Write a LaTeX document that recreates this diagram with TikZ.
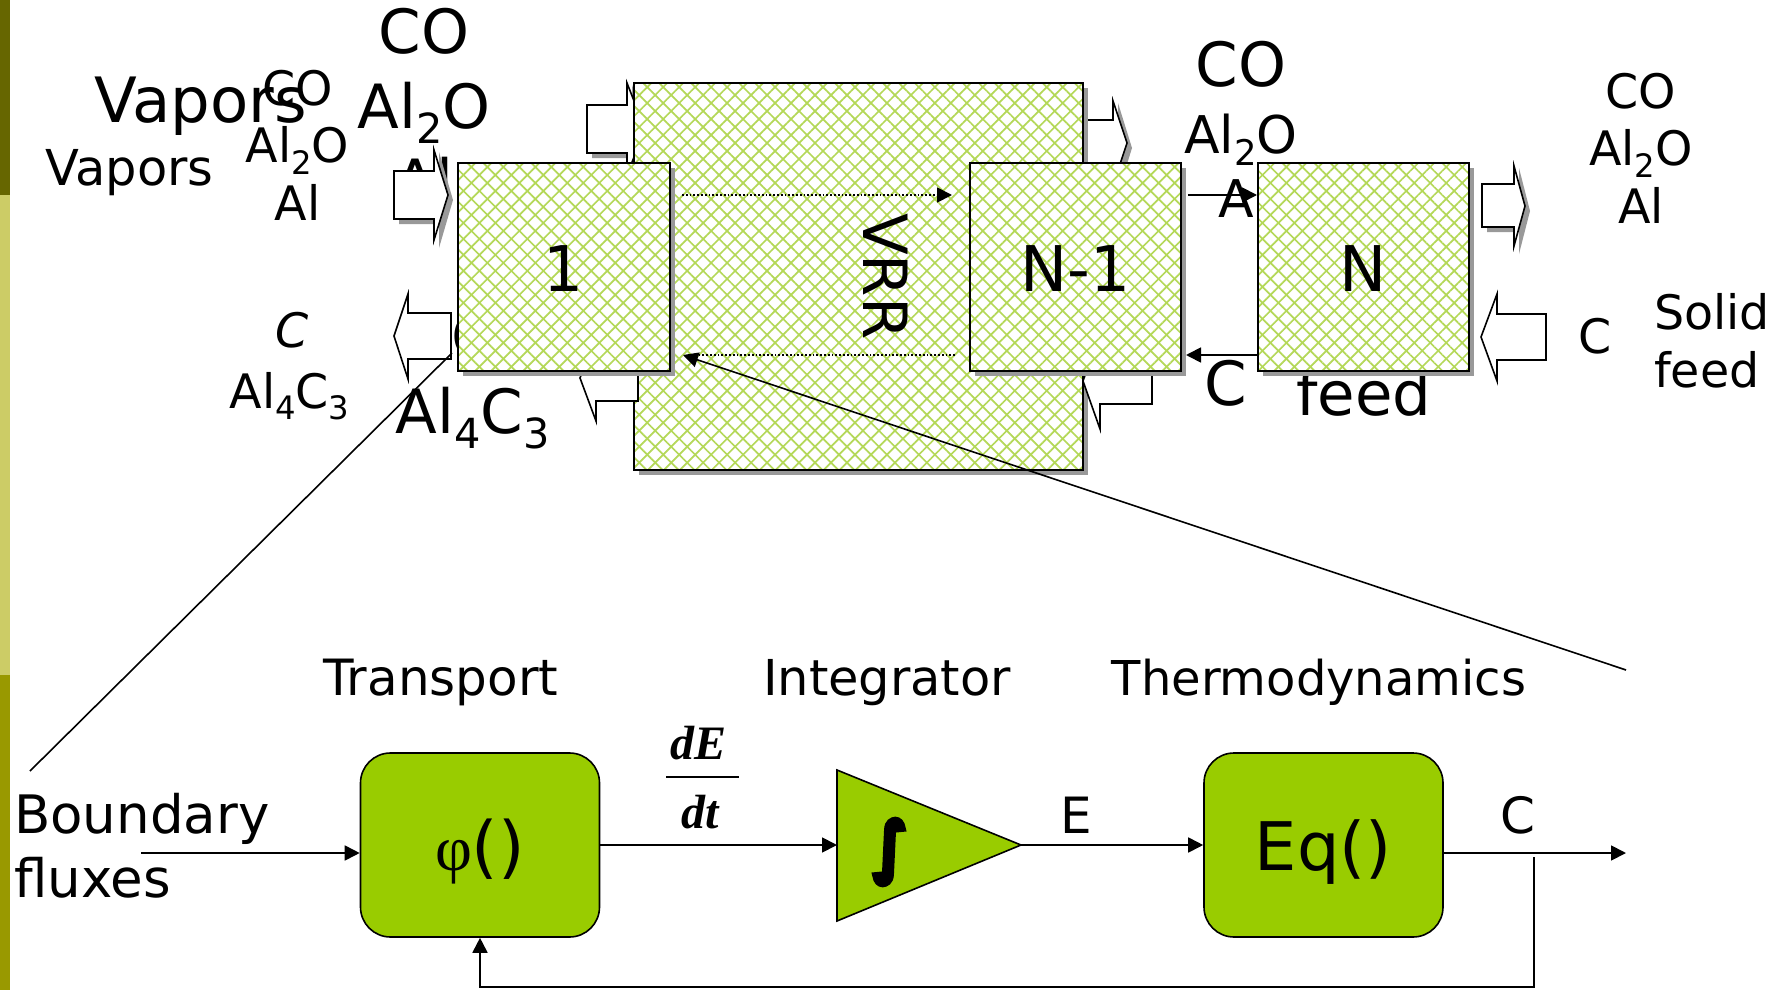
\documentclass[tikz,border=0pt]{standalone}
\usepackage{fontspec}
\setmainfont{DejaVu Sans}
\newfontfamily\timesfont{Liberation Serif}
\newfontfamily\intfont[FakeBold=10]{DejaVu Sans}
\usetikzlibrary{arrows.meta,patterns.meta,shadows,calc}
\definecolor{hatchgreen}{HTML}{B4D858}
\definecolor{blockgreen}{HTML}{99CC00}
\definecolor{shadowgray}{HTML}{999999}
\definecolor{bardark}{HTML}{666600}
\definecolor{barlight}{HTML}{CCCC66}
\definecolor{barmid}{HTML}{999900}
\newcommand{\subnum}[1]{\raisebox{-.25em}{\scalebox{.68}{#1}}}

\begin{document}
\begin{tikzpicture}[x=1pt,y=-1pt,
                    bigtext/.style = {font=\fontsize{61}{75}\selectfont, align=center, inner sep=0pt, anchor=base},
                    midtext/.style = {font=\fontsize{52}{66}\selectfont, align=center, inner sep=0pt, anchor=base},
                    smalltext/.style = {font=\fontsize{47.5}{57.5}\selectfont, align=center, inner sep=0pt, anchor=base},
                    lowtext/.style = {font=\fontsize{49.5}{64}\selectfont, align=left, inner sep=0pt, anchor=base},
                    fractext/.style = {font=\timesfont\bfseries\itshape\fontsize{48}{48}\selectfont, inner sep=0pt, anchor=base},
                    hatchbox/.style = {shape=rectangle, draw, line width=2pt, inner sep=0pt,
                                       general shadow={shadow xshift=5pt, shadow yshift=-5pt, fill=shadowgray},
                                       preaction={fill=white},
                                       preaction={pattern={Lines[angle=45,distance=11.3pt,line width=1.7pt]}, pattern color=hatchgreen},
                                       preaction={pattern={Lines[angle=-45,distance=11.3pt,line width=1.7pt]}, pattern color=hatchgreen},
                                       font=\fontsize{63}{63}\selectfont, text height=48pt, text depth=0pt},
                    blockarrow/.style = {draw, line width=1.6pt, fill=white, line join=miter},
                    blockshadow/.style = {fill=shadowgray},
                    greenbox/.style = {shape=rectangle, draw, line width=1.6pt, fill=blockgreen, rounded corners=30pt,
                                       minimum width=239pt, minimum height=184pt, inner sep=0pt,
                                       text height=50pt, text depth=0pt},
                    flow/.style = {line width=1.8pt, -{Triangle[length=15pt,width=15pt]}},
                    thinflow/.style = {line width=1.6pt}]

  % page and side bars
  \useasboundingbox (0,0) rectangle (1781,990);
  \fill[bardark] (0,0) rectangle (10,195);
  \fill[barlight] (0,195) rectangle (10,675);
  \fill[barmid] (0,675) rectangle (10,990);

  % texts that lie under the boxes
  \node[bigtext, font=\fontsize{62.5}{75}\selectfont] (bigvapors) at (94,122) [anchor=base west] {Vapors};
  \node[smalltext, font=\fontsize{49.5}{57.5}\selectfont] (smallvapors) at (45,185) [anchor=base west] {Vapors};
  \node[bigtext] (bigout) at (424,203) {CO\\Al\subnum{2}O\\Al};
  \node[smalltext] (smallout) at (297.5,220) {CO\\Al\subnum{2}O\\Al};
  \node[bigtext] (bigchar) at (472.5,433) {C\\Al\subnum{4}C\subnum{3}};
  \node[smalltext] (smallchar) at (289.5,408) {\hspace{6pt}\textit{C}\\[3pt]Al\subnum{4}C\subnum{3}};
  \node[bigtext] (midco) at (1241,86) {CO};
  \node[midtext] (midalo) at (1241,153) {Al\subnum{2}O};
  \node[midtext] (midal) at (1243,217) {Al};
  \node[bigtext] (midc) at (1226,405) {C};
  \node[bigtext] (bigfeed) at (1364,415) {feed};
  \node[smalltext] (rightout) at (1641,223) {CO\\Al\subnum{2}O\\Al};
  \node[smalltext] (rightc) at (1595,353) {C};
  \node[smalltext] (rightfeed) at (1654,387) [anchor=base west, align=left] {Solid\\feed};

  % block arrows behind the large box
  \fill[blockshadow] (592,110) -- (632,110) -- (632,85) -- (650,134) -- (632,183) -- (632,158) -- (592,158) -- cycle;
  \draw[blockarrow] (587,105) -- (627,105) -- (627,83) -- (645,129) -- (627,175) -- (627,153) -- (587,153) -- cycle;
  \fill[blockshadow] (1065,125) -- (1118,125) -- (1118,103) -- (1132,148) -- (1118,193) -- (1118,171) -- (1065,171) -- cycle;
  \draw[blockarrow] (1060,120) -- (1113,120) -- (1113,101) -- (1127,143) -- (1113,185) -- (1113,166) -- (1060,166) -- cycle;

  \node[hatchbox, minimum width=449pt, minimum height=387pt, text height=0pt] (vrr) at (858.5,276.5) {};
  \node[font=\fontsize{61}{61}\selectfont, rotate=-90, inner sep=0pt] (vrrtext) at (885.5,276.5) {VRR};

  % block arrows around the boxes
  \draw[blockarrow] (1152,358) -- (1100,358) -- (1100,333) -- (1083,381) -- (1100,429) -- (1100,404) -- (1152,404) -- cycle;
  \draw[blockarrow] (638,355) -- (596,355) -- (596,335) -- (580,378) -- (596,421) -- (596,401) -- (638,401) -- cycle;
  \fill[blockshadow] (399,176) -- (439,176) -- (439,152) -- (453,200) -- (439,248) -- (439,224) -- (399,224) -- cycle;
  \draw[blockarrow] (394,171) -- (434,171) -- (434,150) -- (448,195) -- (434,240) -- (434,219) -- (394,219) -- cycle;
  \draw[blockarrow] (451,313) -- (408,313) -- (408,294) -- (394,336) -- (408,379) -- (408,359) -- (451,359) -- cycle;
  \fill[blockshadow] (1487,189) -- (1519,189) -- (1519,168) -- (1530,211) -- (1519,254) -- (1519,232) -- (1487,232) -- cycle;
  \draw[blockarrow] (1482,184) -- (1514,184) -- (1514,166) -- (1525,206) -- (1514,246) -- (1514,227) -- (1482,227) -- cycle;
  \draw[blockarrow] (1546,314) -- (1497,314) -- (1497,294) -- (1481,337) -- (1497,381) -- (1497,360) -- (1546,360) -- cycle;

  % cells
  \node[hatchbox, minimum width=212pt, minimum height=208pt] (first) at (564,267) {1};
  \node[hatchbox, minimum width=211pt, minimum height=208pt] (prev) at (1075.5,267) {N-1};
  \node[hatchbox, minimum width=211pt, minimum height=208pt] (last) at (1363.5,267) {N};

  \coordinate (upper) at (0,195);
  \coordinate (lower) at (0,355);
  \draw[flow, dotted, -{Triangle[length=15pt,width=15pt]}, shorten <=11pt, shorten >=17pt]
    (first.east |- upper) -- (prev.west |- upper);
  \draw[dotted, line width=1.8pt] (prev.west |- lower) ++(-14,0) -- (698,355);
  \draw[flow, shorten <=6pt] (prev.east |- upper) -- (last.west |- upper);
  \draw[flow, shorten >=4pt] (last.west |- lower) -- (prev.east |- lower);

  % lines to the block diagram
  \coordinate (zoomleft) at (452,353);
  \coordinate (zoomfoot) at (30,771);
  \coordinate (zoomright) at (1626,670);
  \coordinate (zoomtip) at (683,355);
  \draw[thinflow] (zoomleft) -- (zoomfoot);
  \draw[flow, line width=1.6pt] (zoomright) -- (zoomtip);

  % block diagram
  \node[lowtext, font=\fontsize{50}{64}\selectfont] (transport) at (441,695) [anchor=base] {Transport};
  \node[lowtext] (integrator) at (887,695) [anchor=base] {Integrator};
  \node[lowtext, font=\fontsize{48}{64}\selectfont] (thermo) at (1319,695) [anchor=base] {Thermodynamics};

  \node[lowtext, font=\fontsize{53}{64}\selectfont] (boundary) at (14,897) [anchor=base west] {Boundary\\fluxes};
  \node[greenbox, font=\fontsize{68}{68}\selectfont] (transfer) at (480,845) {{\timesfont\fontsize{64}{64}\selectfont φ}()};
  \node[greenbox, font=\fontsize{67}{67}\selectfont] (equil) at (1323.5,845) {Eq()};
  \draw[line width=1.6pt, fill=blockgreen, line join=miter] (837,770) -- (1021,845) -- (837,921) -- cycle;
  \coordinate (triback) at (837,845);
  \coordinate (trinose) at (1021,845);
  \node[font=\intfont\fontsize{66}{66}\selectfont, inner sep=0pt] (integral) at (889,852) {∫};

  \node[fractext] (fractop) at (699,759) {dE};
  \node[fractext] (fracbottom) at (700,828) {dt};
  \draw[thinflow] (666,777) -- (739,777);
  \node[lowtext, font=\fontsize{50}{64}\selectfont] (enthalpy) at (1076.5,833) [anchor=base] {E};
  \node[lowtext, font=\fontsize{50}{64}\selectfont] (conc) at (1518,833) [anchor=base] {C};

  \coordinate (inflow) at (141,853);
  \coordinate (outflow) at (1626,853);
  \coordinate (branch) at (1534,857);
  \coordinate (loopcorner) at (1534,987);
  \draw[flow] (inflow) -- (inflow -| transfer.west);
  \draw[flow] (transfer.east |- triback) -- (triback);
  \draw[flow] (trinose) -- (equil.west |- trinose);
  \draw[flow] (equil.east |- outflow) -- (outflow);
  \draw[flow] (branch) -- (loopcorner) -- (loopcorner -| transfer.south) -- (transfer.south);
\end{tikzpicture}
\end{document}
